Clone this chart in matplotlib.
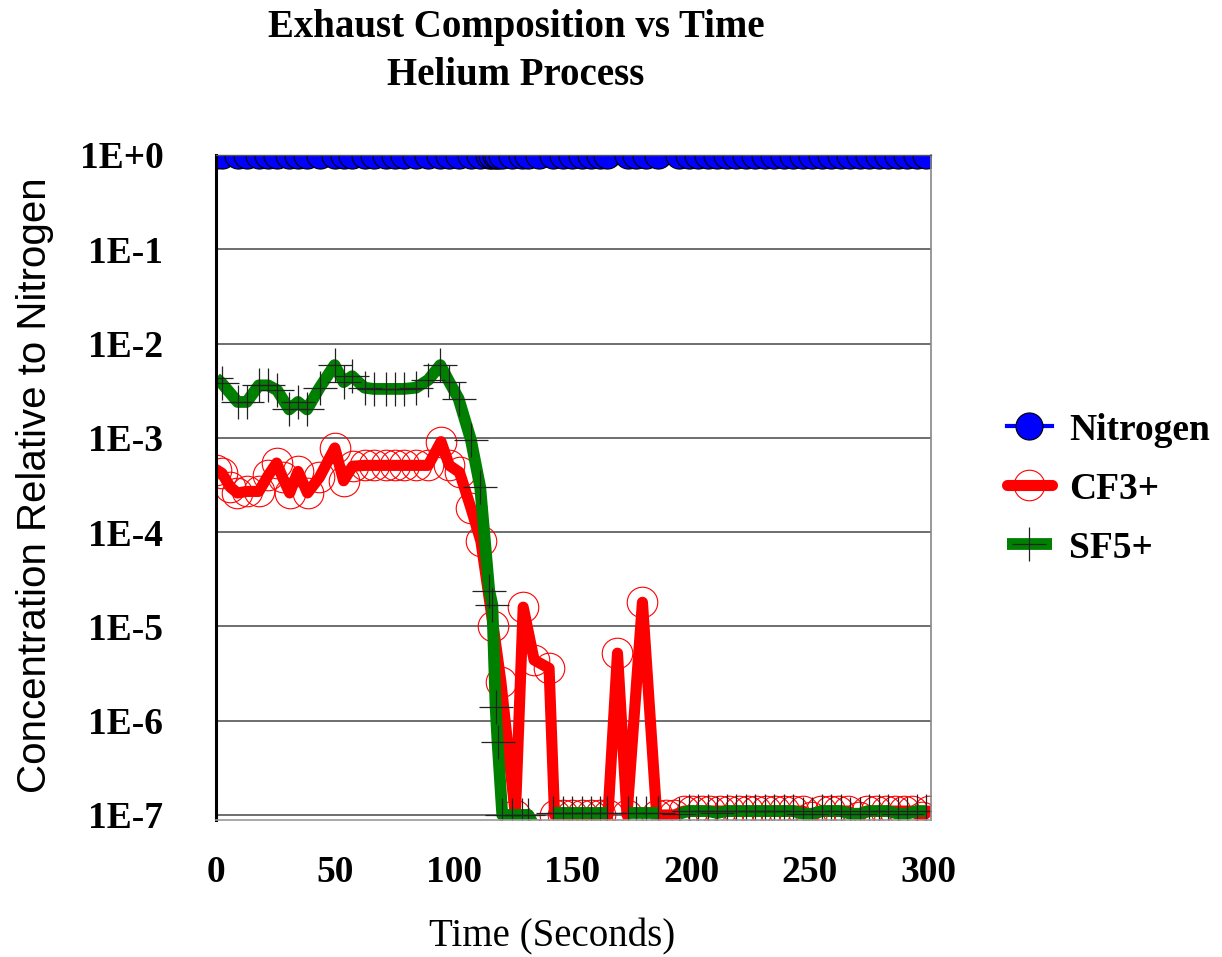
import matplotlib
matplotlib.use('Agg')
import matplotlib.pyplot as plt
import numpy as np
from matplotlib.ticker import NullLocator

# Times-like and Arial-like fonts
plt.rcParams['font.family'] = ['Liberation Serif', 'DejaVu Serif']

nan = np.nan

# --- data ---
sf5_time = [0, 2.4, 9.1, 12.9, 18.0, 21.9, 25.7, 30.8, 34.5, 38.3,
            43.6, 49.9, 53.7, 57.3, 62.5, 66.4, 71.6, 75.4, 79.0, 84.2,
            89.3, 94.4, 98.2, 102.1, 107.3, 111.2, 115.0, 116.3, 117.7, 118.5,
            120.5, 124.5, 129.0, 131.5, 136.0, 139.5, 142.0, 146.0, 150.0, 154.0,
            158.0, 161.5, 164.5, 168.5, 173.5, 177.0, 181.0, 186.0, 190.0, 195.0,
            199.0, 203.0, 207.0, 211.0, 215.0, 219.0, 223.0, 227.0, 231.0, 235.0,
            239.0, 243.0, 247.0, 251.0, 255.0, 259.0, 263.0, 267.0, 271.0, 275.0,
            279.0, 283.0, 287.0, 291.0, 295.0, 299.0]
sf5_conc = [4.3e-3, 3.8e-3, 2.4e-3, 2.4e-3, 3.6e-3, 3.6e-3, 3.2e-3, 2.0e-3, 2.4e-3, 2.0e-3,
            3.4e-3, 5.9e-3, 3.9e-3, 4.5e-3, 3.4e-3, 3.3e-3, 3.3e-3, 3.3e-3, 3.3e-3, 3.4e-3,
            4.1e-3, 5.9e-3, 3.9e-3, 2.6e-3, 9.5e-4, 3.0e-4, 2.4e-5, 1.7e-5, 1.4e-6, 6.0e-7,
            1.0e-7, 1.0e-7, 1.0e-7, 1.0e-7, 6e-8, nan, 1.05e-7, 1.05e-7, 1.05e-7, 1.05e-7,
            1.05e-7, 1.05e-7, 1.05e-7, nan, 1.05e-7, 1.05e-7, 1.05e-7, 1.05e-7, nan, 1.03e-7,
            1.1e-7, 1.1e-7, 1.1e-7, 1.05e-7, 1.1e-7, 1.1e-7, 1.1e-7, 1.1e-7, 1.1e-7, 1.1e-7,
            1.1e-7, 1.1e-7, 1.03e-7, 1.03e-7, 1.1e-7, 1.1e-7, 1.1e-7, 1.03e-7, 1.03e-7, 1.1e-7,
            1.1e-7, 1.1e-7, 1.03e-7, 1.03e-7, 1.1e-7, 1.1e-7]

cf3_time = [0, 2.5, 6.0, 9.0, 13.0, 18.0, 22.0, 25.5, 28.0, 31.0,
            34.5, 38.5, 43.5, 50.0, 53.7, 57.5, 62.5, 66.4, 71.6, 75.4,
            79.0, 84.2, 89.3, 94.7, 98.2, 102.5, 107.3, 111.5, 116.7, 119.9,
            126.0, 129.3, 133.9, 140.2, 142.5, 146.0, 150.0, 154.0, 158.0, 161.5,
            165.0, 169.0, 173.0, 179.5, 185.5, 189.5, 193.0, 197.0, 200.5, 204.5,
            208.0, 212.0, 216.0, 220.0, 224.0, 227.5, 231.5, 235.5, 239.0, 243.0,
            247.0, 250.5, 254.5, 258.5, 262.0, 266.0, 270.5, 274.0, 278.0, 282.0,
            286.0, 289.5, 293.0, 297.0, 300.0]
cf3_conc = [4.6e-4, 4.2e-4, 3.0e-4, 2.6e-4, 2.7e-4, 2.7e-4, 4.0e-4, 5.4e-4, 3.8e-4, 2.6e-4,
            4.4e-4, 2.6e-4, 3.8e-4, 7.8e-4, 3.5e-4, 5.0e-4, 5.1e-4, 5.1e-4, 5.1e-4, 5.1e-4,
            5.1e-4, 5.1e-4, 5.1e-4, 9.1e-4, 5.1e-4, 4.3e-4, 1.8e-4, 8.0e-5, 1.0e-5, 2.6e-6,
            1.0e-7, 1.6e-5, 4.4e-6, 3.6e-6, 1.0e-7, 1.0e-7, 1.0e-7, 1.0e-7, 1.0e-7, 1.0e-7,
            1.0e-7, 5.2e-6, 1.0e-7, 1.8e-5, 1.0e-7, 1.0e-7, 1.0e-7, 1.1e-7, 1.1e-7, 1.1e-7,
            1.1e-7, 1.1e-7, 1.1e-7, 1.1e-7, 1.1e-7, 1.1e-7, 1.1e-7, 1.1e-7, 1.1e-7, 1.1e-7,
            1.1e-7, 9.5e-8, 1.1e-7, 1.1e-7, 1.1e-7, 1.1e-7, 9.5e-8, 1.1e-7, 1.1e-7, 1.1e-7,
            1.1e-7, 1.1e-7, 1.1e-7, 9.5e-8, 1.1e-7]

n2_time = [t for t, c in zip(sf5_time, sf5_conc) if not np.isnan(c)]
n2_conc = [1.0] * len(n2_time)

y_ticks = [1e0, 1e-1, 1e-2, 1e-3, 1e-4, 1e-5, 1e-6, 1e-7]
y_labels = ['1E+0', '1E-1', '1E-2', '1E-3', '1E-4', '1E-5', '1E-6', '1E-7']
x_ticks = [0, 50, 100, 150, 200, 250, 300]

fig = plt.figure(figsize=(12.22, 9.57), dpi=100)
ax = fig.add_axes([0.1768, 0.1432, 0.5851, 0.6949])

ax.plot(n2_time, n2_conc, color='blue', lw=3, marker='o', ms=19.5,
        mfc='blue', mec='black', mew=0.8, label='Nitrogen')
ax.plot(cf3_time, cf3_conc, color='red', lw=8, solid_capstyle='round',
        solid_joinstyle='round', marker='o', ms=22, mfc='none', mec='red',
        mew=0.8, label='CF3+')
ax.plot(sf5_time, sf5_conc, color='#008000', lw=8.5, solid_capstyle='butt',
        marker='+', ms=24, mec='#222222', mew=0.9, label='SF5+')

ax.set_yscale('log')
ax.set_ylim(8.85e-8, 1)
ax.set_xlim(0, 301)
ax.set_yticks(y_ticks)
ax.set_yticklabels(y_labels, fontweight='bold', fontsize=27)
ax.yaxis.set_minor_locator(NullLocator())
ax.set_xticks(x_ticks)
ax.set_xticklabels([str(v) for v in x_ticks], fontweight='bold', fontsize=27)
ax.tick_params(axis='y', length=0, pad=38)
ax.tick_params(axis='x', length=0, pad=25)

ax.grid(axis='y', which='major', color='#555555', lw=1.2)
ax.set_axisbelow(True)

ax.spines['left'].set_color('black')
ax.spines['left'].set_linewidth(2.2)
ax.spines['right'].set_color('#888888')
ax.spines['right'].set_linewidth(1.2)
ax.spines['bottom'].set_color('#999999')
ax.spines['bottom'].set_linewidth(1.2)
ax.spines['top'].set_color('#555555')
ax.spines['top'].set_linewidth(1.0)

fig.text(0.4223, 0.9613, 'Exhaust Composition vs Time', fontweight='bold',
         fontsize=28, ha='center', va='baseline')
fig.text(0.4223, 0.9112, 'Helium Process', fontweight='bold',
         fontsize=28, ha='center', va='baseline')
fig.text(0.0286, 0.4925, 'Concentration Relative to Nitrogen', rotation=90,
         family=['Liberation Sans', 'DejaVu Sans'], fontsize=29,
         ha='center', va='center')
fig.text(0.4517, 1 - 937 / 957, 'Time (Seconds)', fontsize=28,
         ha='center', va='center')

fig.legend(loc='center left', bbox_to_anchor=(0.824, 0.489), frameon=False,
           prop={'weight': 'bold', 'size': 27}, handlelength=1.2,
           handletextpad=0.45, labelspacing=0.64, borderpad=0,
           borderaxespad=0, numpoints=1)

fig.savefig('out.png', dpi=100)
